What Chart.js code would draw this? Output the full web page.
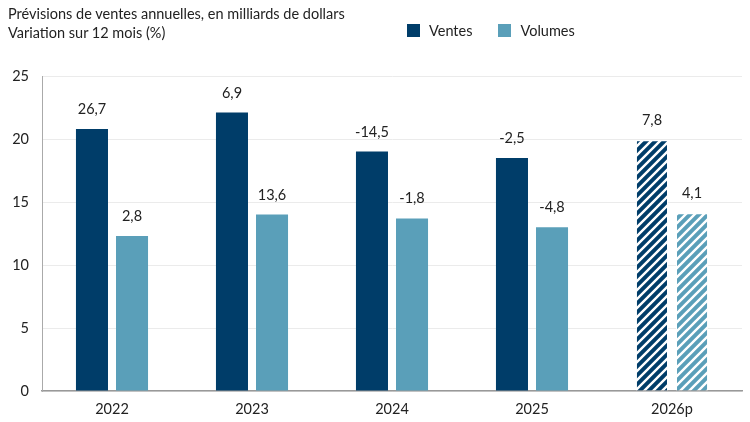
<!DOCTYPE html>
<html>
<head>
<meta charset="utf-8">
<script src="https://cdn.jsdelivr.net/npm/chart.js@4"></script>
<style>
  html, body { margin:0; padding:0; background:#fff; }
  #wrap { position:relative; width:750px; height:422px; font-family: Lato, "Noto Sans", sans-serif; color:#222; }
  #title { position:absolute; left:8px; top:4px; font-size:14.5px; line-height:19px; }
  #legend { position:absolute; left:407px; top:22px; font-size:14.5px; display:flex; align-items:center; }
  .sw { display:inline-block; width:13px; height:13px; margin-right:9px; }
  .item { display:flex; align-items:center; margin-right:26px; }
  canvas { position:absolute; left:0; top:0; }
</style>
</head>
<body>
<div id="wrap">
  <canvas id="c" width="750" height="422"></canvas>
  <div id="title">Prévisions de ventes annuelles, en milliards de dollars<br>Variation sur 12 mois (%)</div>
  <div id="legend">
    <div class="item"><span class="sw" style="background:#003d69"></span>Ventes</div>
    <div class="item"><span class="sw" style="background:#5a9fb9"></span>Volumes</div>
  </div>
</div>
<script>
const categories = ['2022', '2023', '2024', '2025', '2026p'];
const ventes = [20.8, 22.1, 19.0, 18.5, 19.9];
const volumes = [12.3, 14.0, 13.7, 13.0, 14.1];
const ventesChange = ['26,7', '6,9', '-14,5', '-2,5', '7,8'];
const volumesChange = ['2,8', '13,6', '-1,8', '-4,8', '4,1'];
const projected = [false, false, false, false, true];
const yTicks = [0, 5, 10, 15, 20, 25];

const DARK = '#003d69';
const LIGHT = '#5a9fb9';

function hatch(color) {
  const p = 9;
  const c = document.createElement('canvas');
  c.width = p; c.height = p;
  const g = c.getContext('2d');
  g.fillStyle = color; g.fillRect(0, 0, p, p);
  g.strokeStyle = '#fff'; g.lineWidth = 2.4;
  g.beginPath();
  g.moveTo(-1, p + 1); g.lineTo(p + 1, -1);
  g.moveTo(-1, 1); g.lineTo(1, -1);
  g.moveTo(p - 1, p + 1); g.lineTo(p + 1, p - 1);
  g.stroke();
  return g.createPattern(c, 'repeat');
}
const darkHatch = hatch(DARK);
const lightHatch = hatch(LIGHT);

const labelPlugin = {
  id: 'barLabels',
  afterDatasetsDraw(chart) {
    const ctx = chart.ctx;
    ctx.save();
    ctx.font = '14.5px Lato, "Noto Sans", sans-serif';
    ctx.fillStyle = '#222';
    ctx.textAlign = 'center';
    ctx.textBaseline = 'alphabetic';
    const sets = [ventesChange, volumesChange];
    chart.data.datasets.forEach((ds, di) => {
      chart.getDatasetMeta(di).data.forEach((bar, i) => {
        ctx.fillText(sets[di][i], bar.x, bar.y - 15);
      });
    });
    ctx.restore();
  }
};

new Chart(document.getElementById('c'), {
  type: 'bar',
  data: {
    labels: categories,
    datasets: [
      { label: 'Ventes', data: ventes,
        backgroundColor: projected.map(p => p ? darkHatch : DARK),
        borderColor: projected.map(p => p ? '#fff' : DARK), borderWidth: projected.map(p => p ? 1 : 0) },
      { label: 'Volumes', data: volumes,
        backgroundColor: projected.map(p => p ? lightHatch : LIGHT),
        borderColor: projected.map(p => p ? '#fff' : LIGHT), borderWidth: projected.map(p => p ? 1 : 0) }
    ]
  },
  options: {
    responsive: false,
    animation: false,
    devicePixelRatio: 1,
    layout: { padding: { top: 76, right: 8, left: 0, bottom: 0 } },
    barPercentage: 0.8,
    categoryPercentage: 0.572,
    plugins: { legend: { display: false }, tooltip: { enabled: false }, title: { display: false } },
    scales: {
      x: {
        grid: { display: false, drawTicks: false },
        border: { color: '#999', width: 1.5 },
        ticks: { color: '#222', font: { family: 'Lato, "Noto Sans", sans-serif', size: 14.5 }, padding: 10 },
        afterFit(s) { s.height = 31; }
      },
      y: {
        min: 0, max: 25,
        afterBuildTicks(s) { s.ticks = yTicks.map(v => ({ value: v })); },
        grid: { color: '#ebebeb', drawTicks: false },
        border: { color: '#aaa', width: 1 },
        ticks: { color: '#222', font: { family: 'Lato, "Noto Sans", sans-serif', size: 14.5 }, padding: 13 },
        afterFit(s) { s.width = 42; }
      }
    }
  },
  plugins: [labelPlugin]
});
</script>
</body>
</html>
